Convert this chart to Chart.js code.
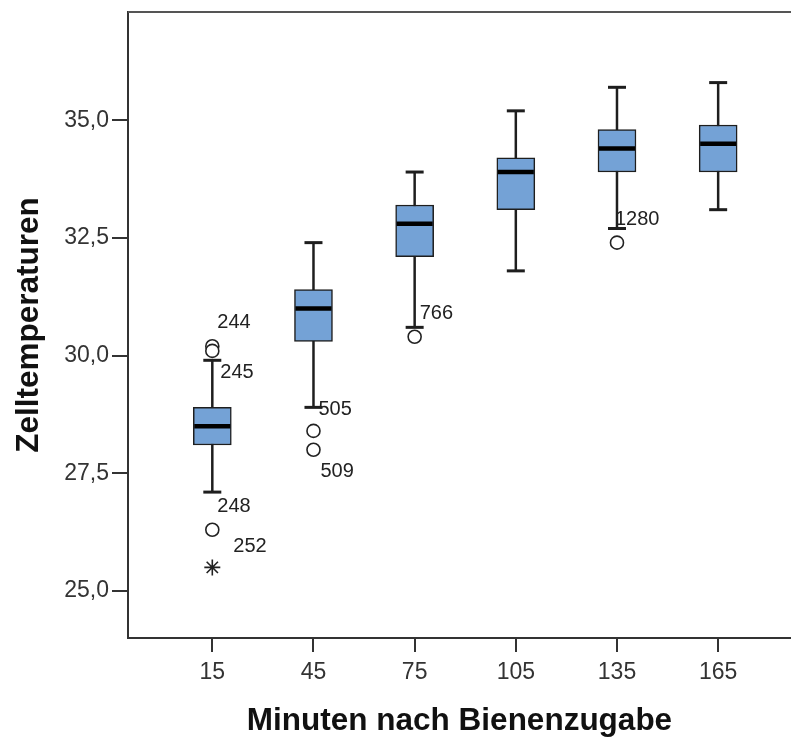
<!DOCTYPE html>
<html>
<head>
<meta charset="utf-8">
<script src="https://cdn.jsdelivr.net/npm/chart.js@4.4.1/dist/chart.umd.min.js"></script>
<style>
  body { margin: 0; background: #fff; }
  canvas { display: block; }
</style>
</head>
<body>
<canvas id="chart" width="791" height="742"></canvas>
<script>
// box plot values
const minutes = [15, 45, 75, 105, 135, 165];
const whiskerLow = [27.1, 28.9, 30.6, 31.8, 32.7, 33.1];
const q1 = [28.1, 30.3, 32.1, 33.1, 33.9, 33.9];
const median = [28.5, 31.0, 32.8, 33.9, 34.4, 34.5];
const q3 = [28.9, 31.4, 33.2, 34.2, 34.8, 34.9];
const whiskerHigh = [29.9, 32.4, 33.9, 35.2, 35.7, 35.8];

// outliers (circle) and extremes (star) with case numbers
const outlierMinute = [15, 15, 15, 15, 45, 45, 75, 135];
const outlierValue = [30.2, 30.1, 26.3, 25.5, 28.4, 28.0, 30.4, 32.4];
const outlierCase = ["244", "245", "248", "252", "505", "509", "766", "1280"];
const outlierExtreme = [false, false, false, true, false, false, false, false];

const yTicks = [25, 27.5, 30, 32.5, 35];

// where the case labels sit relative to their point (px)
const labelShift = [[5, -24], [8, 22], [5, -23], [21, -21], [5, -21], [7, 22], [5, -23], [-2, -23]];

const boxWidth = 38;
const capWidth = 18;
const ink = "#1e1e1e";

const boxPlugin = {
  id: "boxParts",
  beforeDatasetsDraw(chart) {
    const { ctx, scales: { x, y } } = chart;
    ctx.save();
    ctx.strokeStyle = ink;
    minutes.forEach((m, i) => {
      const px = x.getPixelForValue(m);
      // whisker stem
      ctx.lineWidth = 2.5;
      ctx.beginPath();
      ctx.moveTo(px, y.getPixelForValue(whiskerLow[i]));
      ctx.lineTo(px, y.getPixelForValue(whiskerHigh[i]));
      ctx.stroke();
      // caps
      ctx.lineWidth = 3;
      [whiskerLow[i], whiskerHigh[i]].forEach((v) => {
        const py = y.getPixelForValue(v);
        ctx.beginPath();
        ctx.moveTo(px - capWidth / 2, py);
        ctx.lineTo(px + capWidth / 2, py);
        ctx.stroke();
      });
    });
    ctx.restore();
  },
  afterDatasetsDraw(chart) {
    const { ctx, chartArea, scales: { x, y } } = chart;
    ctx.save();
    // medians
    ctx.strokeStyle = "#000";
    ctx.lineWidth = 4.5;
    minutes.forEach((m, i) => {
      const px = x.getPixelForValue(m);
      const py = y.getPixelForValue(median[i]);
      ctx.beginPath();
      ctx.moveTo(px - boxWidth / 2 + 1, py);
      ctx.lineTo(px + boxWidth / 2 - 1, py);
      ctx.stroke();
    });
    // case labels
    ctx.fillStyle = "#222";
    ctx.font = "20px 'Liberation Sans', Arial, sans-serif";
    ctx.textBaseline = "middle";
    ctx.textAlign = "left";
    outlierCase.forEach((c, i) => {
      const px = x.getPixelForValue(outlierMinute[i]);
      const py = y.getPixelForValue(outlierValue[i]);
      ctx.fillText(c, px + labelShift[i][0], py + labelShift[i][1]);
    });
    // top frame line
    ctx.strokeStyle = "#555";
    ctx.lineWidth = 2;
    ctx.beginPath();
    ctx.moveTo(chartArea.left, chartArea.top);
    ctx.lineTo(chartArea.right, chartArea.top);
    ctx.stroke();
    ctx.restore();
  }
};

const ctx = document.getElementById("chart").getContext("2d");
new Chart(ctx, {
  type: "bar",
  data: {
    datasets: [
      {
        label: "Box",
        data: minutes.map((m, i) => ({ x: m, y: [q1[i], q3[i]] })),
        backgroundColor: "#74a2d6",
        borderColor: ink,
        borderWidth: 1.5,
        borderSkipped: false,
        barThickness: boxWidth
      },
      {
        type: "scatter",
        label: "Ausreißer",
        data: outlierMinute.map((m, i) => ({ x: m, y: outlierValue[i] })),
        pointStyle: outlierExtreme.map((e) => (e ? "star" : "circle")),
        pointRadius: outlierExtreme.map((e) => (e ? 8 : 6.5)),
        pointBackgroundColor: "#fff",
        pointBorderColor: "#222",
        pointBorderWidth: 1.6
      }
    ]
  },
  options: {
    responsive: false,
    animation: false,
    layout: { autoPadding: false, padding: { top: 12, right: 0, bottom: 0, left: 0 } },
    plugins: {
      legend: { display: false },
      tooltip: { enabled: false }
    },
    scales: {
      x: {
        type: "linear",
        offset: false,
        min: -10,
        max: 186.6,
        afterBuildTicks: (scale) => {
          scale.ticks = minutes.map((m) => ({ value: m }));
        },
        afterFit: (scale) => {
          scale.height = 104;
          scale.paddingLeft = 0;
          scale.paddingRight = 0;
        },
        grid: {
          offset: false,
          drawOnChartArea: false,
          drawTicks: true,
          tickLength: 14,
          color: "#333",
          lineWidth: 2
        },
        border: { display: true, color: "#333", width: 2 },
        ticks: {
          color: "#333",
          padding: 7,
          maxRotation: 0,
          font: { family: "'Liberation Sans', Arial, sans-serif", size: 23 },
          callback: (v) => String(v)
        },
        title: {
          display: true,
          text: "Minuten nach Bienenzugabe",
          color: "#111",
          padding: { top: 0, bottom: 2 },
          font: { family: "'Liberation Sans', Arial, sans-serif", size: 31.5, weight: "bold" }
        }
      },
      y: {
        min: 24.0,
        max: 37.3,
        afterBuildTicks: (scale) => {
          scale.ticks = yTicks.map((v) => ({ value: v }));
        },
        afterFit: (scale) => {
          scale.width = 128;
          scale.paddingTop = 0;
          scale.paddingBottom = 0;
        },
        grid: {
          drawOnChartArea: false,
          drawTicks: true,
          tickLength: 16,
          color: "#333",
          lineWidth: 2
        },
        border: { display: true, color: "#333", width: 2 },
        ticks: {
          color: "#333",
          padding: 3,
          font: { family: "'Liberation Sans', Arial, sans-serif", size: 23 },
          callback: (v) => v.toFixed(1).replace(".", ",")
        },
        title: {
          display: true,
          text: "Zelltemperaturen",
          color: "#111",
          padding: { top: 10, bottom: 0 },
          font: { family: "'Liberation Sans', Arial, sans-serif", size: 31.5, weight: "bold" }
        }
      }
    }
  },
  plugins: [boxPlugin]
});
</script>
</body>
</html>
